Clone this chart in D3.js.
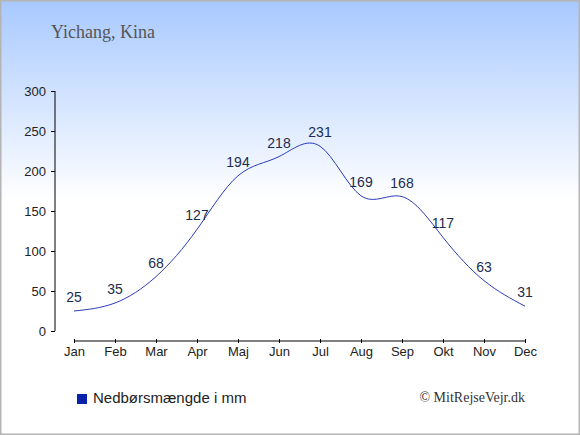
<!DOCTYPE html>
<html>
<head>
<meta charset="utf-8">
<script src="https://cdn.jsdelivr.net/npm/d3@7.9.0/dist/d3.min.js"></script>
<style>
  html, body { margin: 0; padding: 0; background: #fff; }
  svg { display: block; }
</style>
</head>
<body>
<svg id="chart" width="580" height="435"></svg>
<script>
const months = ['Jan', 'Feb', 'Mar', 'Apr', 'Maj', 'Jun', 'Jul', 'Aug', 'Sep', 'Okt', 'Nov', 'Dec'];
const rainfall = [25, 35, 68, 127, 194, 218, 231, 169, 168, 117, 63, 31];
const yTicks = [0, 50, 100, 150, 200, 250, 300];

const svg = d3.select('#chart');
const W = 580, H = 435;

// background gradient
const defs = svg.append('defs');
const grad = defs.append('linearGradient')
  .attr('id', 'bg')
  .attr('x1', 0).attr('y1', 0).attr('x2', 0).attr('y2', 1);
grad.append('stop').attr('offset', '0%').attr('stop-color', '#a8c9ff');
grad.append('stop').attr('offset', '46%').attr('stop-color', '#ffffff');
grad.append('stop').attr('offset', '100%').attr('stop-color', '#ffffff');

svg.append('rect')
  .attr('x', 0.75).attr('y', 0.75)
  .attr('width', W - 1.5).attr('height', H - 1.5)
  .attr('fill', 'url(#bg)')
  .attr('stroke', '#b4b4b4')
  .attr('stroke-width', 1.5);

// title
svg.append('text')
  .attr('x', 51).attr('y', 38)
  .attr('font-family', 'Liberation Serif, serif')
  .attr('font-size', 18)
  .attr('fill', '#555')
  .text('Yichang, Kina');

// scales
const x = d3.scalePoint().domain(months).range([74, 525]);
const y = d3.scaleLinear().domain([0, 300]).range([331, 91]);

// y axis
const yAxis = svg.append('g')
  .attr('transform', 'translate(55,0)')
  .call(d3.axisLeft(y).tickValues(yTicks).tickSize(4).tickPadding(5));
yAxis.select('.domain').attr('d', `M0,${y(300)}V${y(0)}`);

// x axis
const xAxis = svg.append('g')
  .attr('transform', 'translate(0,341)')
  .call(d3.axisBottom(x).tickSize(2).tickPadding(4));
xAxis.select('.domain').attr('d', `M${x('Jan')},0H${x('Dec')}`);
xAxis.selectAll('.tick line').attr('y1', -2).attr('y2', 2);

svg.selectAll('.tick text')
  .attr('font-family', 'Liberation Sans, Arial, sans-serif')
  .attr('font-size', 13)
  .attr('fill', '#222');
svg.selectAll('.domain, .tick line').attr('stroke', '#000');

// line
const line = d3.line()
  .x((d, i) => x(months[i]))
  .y(d => y(d))
  .curve(d3.curveNatural);

svg.append('path')
  .datum(rainfall)
  .attr('d', line)
  .attr('fill', 'none')
  .attr('stroke', '#2a3bb8')
  .attr('stroke-width', 1);

// value labels
svg.selectAll('.val')
  .data(rainfall)
  .enter()
  .append('text')
  .attr('class', 'val')
  .attr('x', (d, i) => x(months[i]))
  .attr('y', d => y(d) - 9)
  .attr('text-anchor', 'middle')
  .attr('font-family', 'Liberation Sans, Arial, sans-serif')
  .attr('font-size', 14)
  .attr('fill', '#1c2c50')
  .text(d => d);

// legend
svg.append('rect')
  .attr('x', 77).attr('y', 394)
  .attr('width', 10).attr('height', 10)
  .attr('fill', '#0a22aa');
svg.append('text')
  .attr('x', 93).attr('y', 403)
  .attr('font-family', 'Liberation Sans, Arial, sans-serif')
  .attr('font-size', 15)
  .attr('fill', '#222')
  .text('Nedbørsmængde i mm');

svg.append('text')
  .attr('x', 525).attr('y', 402)
  .attr('text-anchor', 'end')
  .attr('font-family', 'Liberation Serif, serif')
  .attr('font-size', 14)
  .attr('fill', '#333')
  .text('© MitRejseVejr.dk');
</script>
</body>
</html>
